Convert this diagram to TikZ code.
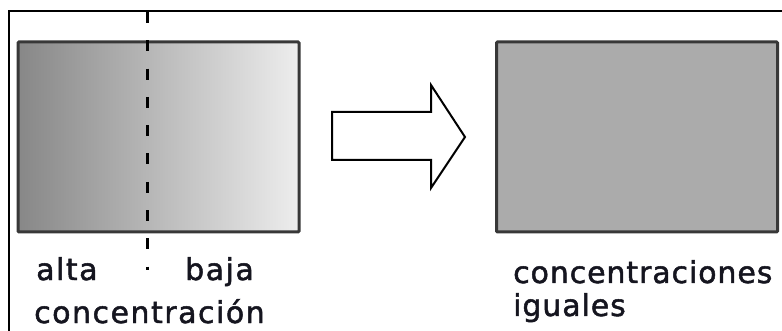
\documentclass[tikz,border=0pt]{standalone}
\usepackage{fontspec}
\setmainfont{DejaVu Sans}[LetterSpace=5, FakeBold=1.6]
\newfontfamily\tightlabel{DejaVu Sans}[LetterSpace=3, FakeBold=1.6]
\usetikzlibrary{calc}
\definecolor{edgegray}{HTML}{383838}
\definecolor{inkdark}{HTML}{15151F}
\tikzset{
  x=1pt, y=-1pt,
  tank/.style={draw=edgegray, line width=3pt, rounded corners=1pt,
    inner sep=0pt, outer sep=0pt, minimum width=281pt, minimum height=190pt},
  label text/.style={anchor=base west, inner sep=0pt, text=inkdark,
    font=\fontsize{30}{33}\selectfont},
  divider/.style={line width=3pt, dash pattern=on 11pt off 17.3pt},
  bigarrow/.style={draw=black, line width=2pt, fill=white, line join=miter},
}
\begin{document}
\begin{tikzpicture}
\useasboundingbox (0,0) rectangle (782,331);
% frame (only its top and left sides fall inside the page)
\draw[line width=1.5pt] (9,331) -- (9,11) -- (782,11);

% container before mixing: shaded from high to low concentration
\node[tank, shading=axis, left color=black!47, right color=black!7] (before) at (158.5,137) {};
% container after mixing: uniform grey
\node[tank, fill=black!33] (after) at (637,137) {};

% dividing line between the two halves
\coordinate (divtop) at (147,12);
\coordinate (divbot) at (147,270);
\draw[divider] (divtop) -- (divbot);

% block arrow
\draw[bigarrow] (332,112) -- (431,112) -- (431,85) -- (465,137) -- (431,188) -- (431,160) -- (332,160) -- cycle;

% labels
\node[label text] (alta) at (36,280) {alta};
\node[label text] (baja) at (185,280) {baja};
\node[label text] (conc) at (34,323) {concentración};
\node[label text, font=\fontsize{30}{33}\tightlabel] (concs) at (513,283) {concentraciones};
\node[label text, font=\fontsize{30}{33}\tightlabel] (igu) at (513,316) {iguales};
\end{tikzpicture}
\end{document}
